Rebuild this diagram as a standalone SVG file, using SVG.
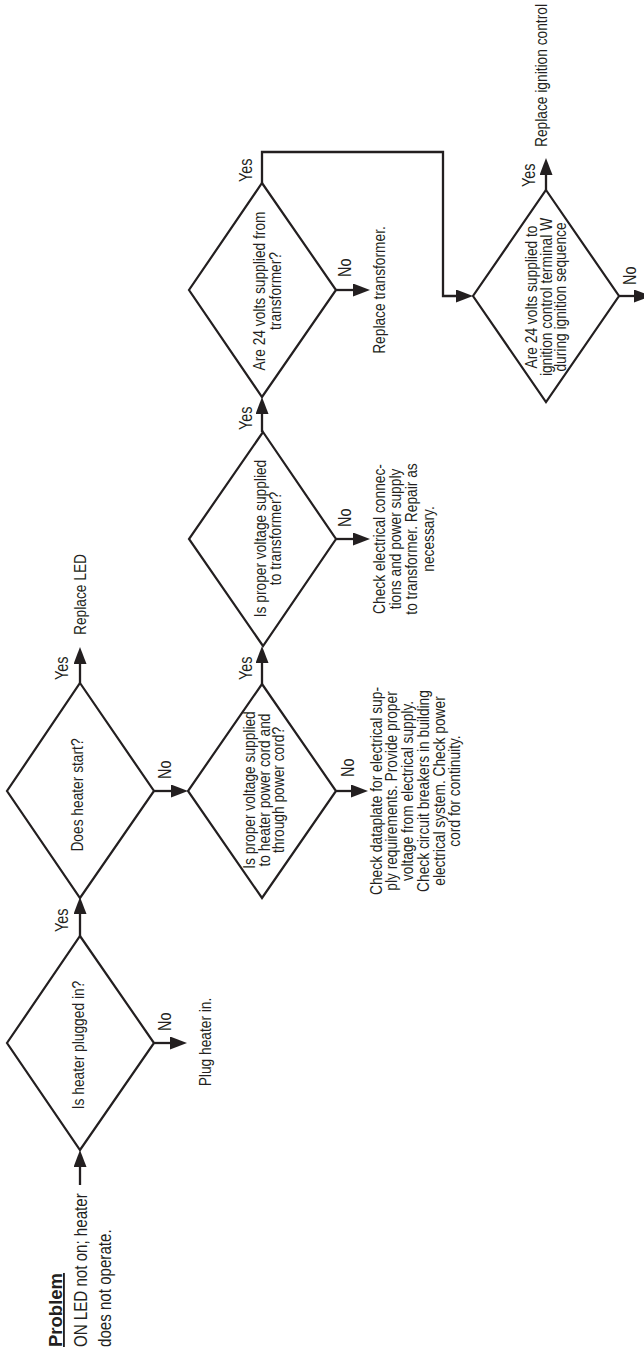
<svg xmlns="http://www.w3.org/2000/svg" width="644" height="1353" viewBox="0 0 644 1353">
<style>
  .bg{fill:#ffffff}
  .d{fill:none;stroke:#231f20;stroke-width:2.2;stroke-linejoin:miter}
  .c{fill:none;stroke:#231f20;stroke-width:2.3}
  .t{font-family:"Liberation Sans",Arial,Helvetica,sans-serif;fill:#231f20}
  .nt{font-size:16.2px}
  .lb{font-size:18px}
  .pb{font-size:18px}
  .ph{font-size:18.5px;font-weight:bold;text-decoration:underline}
</style>
<defs>
  <marker id="ah" markerUnits="userSpaceOnUse" markerWidth="17" markerHeight="13" refX="9" refY="6.5" orient="auto">
    <path d="M0,0 L17,6.5 L0,13 Z" fill="#231f20"/>
  </marker>
</defs>
<rect class="bg" x="0" y="0" width="644" height="1353"/>

<g id="connectors">
  <path class="c" d="M80,1185 V1158" marker-end="url(#ah)"/>
  <path class="c" d="M80,936 V905" marker-end="url(#ah)"/>
  <path class="c" d="M154,1043 H179" marker-end="url(#ah)"/>
  <path class="c" d="M80,683 V655" marker-end="url(#ah)"/>
  <path class="c" d="M154,791 H180" marker-end="url(#ah)"/>
  <path class="c" d="M262,684 V654" marker-end="url(#ah)"/>
  <path class="c" d="M336,791 H360" marker-end="url(#ah)"/>
  <path class="c" d="M262,432 V405" marker-end="url(#ah)"/>
  <path class="c" d="M336,539 H362" marker-end="url(#ah)"/>
  <path class="c" d="M262,183 V152 H443 V296 H465" marker-end="url(#ah)"/>
  <path class="c" d="M336,290 H362" marker-end="url(#ah)"/>
  <path class="c" d="M546,190 V166" marker-end="url(#ah)"/>
  <path class="c" d="M619,296 H643" marker-end="url(#ah)"/>
  <g class="t lb">
    <text transform="translate(68,932) rotate(-90) scale(0.8,1)">Yes</text>
    <text transform="translate(68,680) rotate(-90) scale(0.8,1)">Yes</text>
    <text transform="translate(252,680) rotate(-90) scale(0.8,1)">Yes</text>
    <text transform="translate(252,430) rotate(-90) scale(0.8,1)">Yes</text>
    <text transform="translate(252,182) rotate(-90) scale(0.8,1)">Yes</text>
    <text transform="translate(535,187) rotate(-90) scale(0.8,1)">Yes</text>
    <text transform="translate(171,1031) rotate(-90) scale(0.8,1)">No</text>
    <text transform="translate(171,779) rotate(-90) scale(0.8,1)">No</text>
    <text transform="translate(354,777) rotate(-90) scale(0.8,1)">No</text>
    <text transform="translate(351,527) rotate(-90) scale(0.8,1)">No</text>
    <text transform="translate(351,277) rotate(-90) scale(0.8,1)">No</text>
    <text transform="translate(636,285) rotate(-90) scale(0.8,1)">No</text>
  </g>
</g>

<g id="problem">
  <text class="t ph" transform="translate(62,1347) rotate(-90)">Problem</text>
  <text class="t pb" transform="translate(87,1347) rotate(-90) scale(0.84,1)"><tspan x="0" y="0">ON LED not on; heater</tspan><tspan x="0" dy="24">does not operate.</tspan></text>
</g>

<g id="d1">
  <polygon class="d" points="80,936 154,1043 80,1150 7,1043"/>
  <text class="t nt" text-anchor="middle" transform="translate(83.5,1045) rotate(-90) scale(0.85,1)">Is heater plugged in?</text>
</g>
<g id="a1">
  <text class="t nt" text-anchor="middle" transform="translate(210.5,1042) rotate(-90) scale(0.85,1)">Plug heater in.</text>
</g>

<g id="d2">
  <polygon class="d" points="80,683 154,791 80,898 7,791"/>
  <text class="t nt" text-anchor="middle" transform="translate(83,795) rotate(-90) scale(0.85,1)">Does heater start?</text>
</g>
<g id="a2">
  <text class="t nt" transform="translate(85.5,635) rotate(-90) scale(0.85,1)">Replace LED</text>
</g>

<g id="d3">
  <polygon class="d" points="262,684 336,791 262,898 188,791"/>
  <text class="t nt" text-anchor="middle" transform="translate(254.5,790) rotate(-90) scale(0.85,1)"><tspan x="0" y="0">Is proper voltage supplied</tspan><tspan x="0" dy="15">to heater power cord and</tspan><tspan x="0" dy="15">through power cord?</tspan></text>
</g>
<g id="a3">
  <text class="t nt" text-anchor="middle" transform="translate(381.5,791) rotate(-90) scale(0.85,1)"><tspan x="0" y="0">Check dataplate for electrical sup-</tspan><tspan x="0" dy="15.8">ply requirements. Provide proper</tspan><tspan x="0" dy="15.8">voltage from electrical supply.</tspan><tspan x="0" dy="15.8">Check circuit breakers in building</tspan><tspan x="0" dy="15.8">electrical system. Check power</tspan><tspan x="0" dy="15.8">cord for continuity.</tspan></text>
</g>

<g id="d4">
  <polygon class="d" points="263,432 336,539 263,646 189,539"/>
  <text class="t nt" text-anchor="middle" transform="translate(265.5,538.5) rotate(-90) scale(0.85,1)"><tspan x="0" y="0">Is proper voltage supplied</tspan><tspan x="0" dy="16">to transformer?</tspan></text>
</g>
<g id="a4">
  <text class="t nt" text-anchor="middle" transform="translate(384.5,539) rotate(-90) scale(0.85,1)"><tspan x="0" y="0">Check electrical connec-</tspan><tspan x="0" dy="16.5">tions and power supply</tspan><tspan x="0" dy="16.5">to transformer. Repair as</tspan><tspan x="0" dy="16.5">necessary.</tspan></text>
</g>

<g id="d5">
  <polygon class="d" points="262,183 336,290 262,397 189,290"/>
  <text class="t nt" text-anchor="middle" transform="translate(265,291) rotate(-90) scale(0.85,1)"><tspan x="0" y="0">Are 24 volts supplied from</tspan><tspan x="0" dy="16.5">transformer?</tspan></text>
</g>
<g id="a5">
  <text class="t nt" text-anchor="middle" transform="translate(384.5,290) rotate(-90) scale(0.85,1)">Replace transformer.</text>
</g>

<g id="d6">
  <polygon class="d" points="546,190 619,296 546,402 473,296"/>
  <text class="t nt" text-anchor="middle" transform="translate(536.5,297) rotate(-90) scale(0.85,1)"><tspan x="0" y="0">Are 24 volts supplied to</tspan><tspan x="0" dy="15">ignition control terminal W</tspan><tspan x="0" dy="15">during ignition sequence</tspan></text>
</g>
<g id="a6">
  <text class="t nt" transform="translate(546.5,147) rotate(-90) scale(0.85,1)">Replace ignition control</text>
</g>
</svg>
